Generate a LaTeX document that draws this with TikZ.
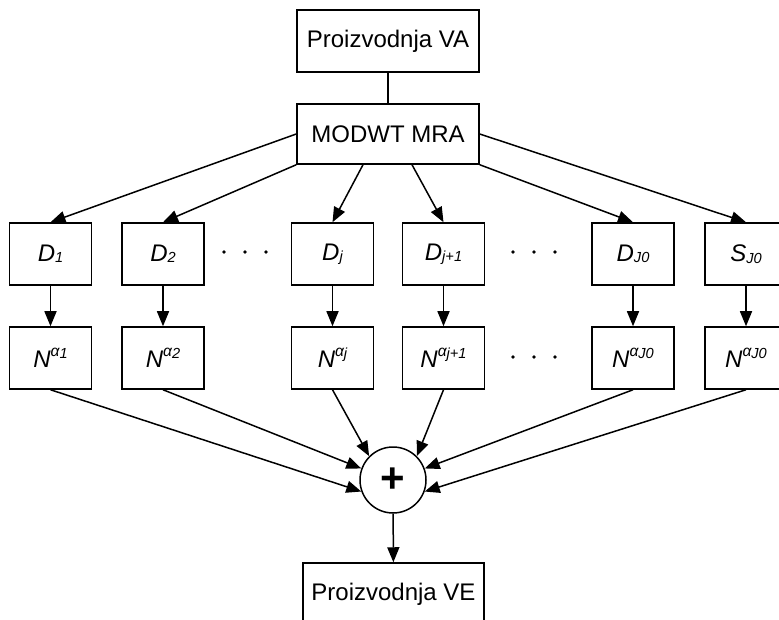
\documentclass[tikz,border=0pt]{standalone}
\usepackage{fontspec}
\setmainfont{Liberation Sans}
\usetikzlibrary{arrows.meta}

\newcommand{\dsub}[1]{\raisebox{-0.7pt}{\fontsize{7.3}{7.3}\selectfont #1}}
\newcommand{\nalpha}[1]{\raisebox{5.5pt}{\fontsize{7.8}{7.8}\selectfont α\raisebox{-0.8pt}{\fontsize{7.3}{7.3}\selectfont #1}}}

\begin{document}
\begin{tikzpicture}[x=0.5pt, y=-0.5pt,
    box/.style={rectangle, draw, line width=0.75pt, minimum width=41pt,
        minimum height=31pt, inner sep=0pt, font=\fontsize{12}{14}\selectfont\itshape},
    widebox/.style={rectangle, draw, line width=0.75pt, minimum width=91pt,
        minimum height=31pt, inner sep=0pt, font=\fontsize{12}{14}\selectfont},
    sumnode/.style={circle, draw, line width=0.75pt, minimum size=33pt,
        inner sep=0pt, font=\fontsize{21}{21}\selectfont\bfseries},
    arr/.style={-{Triangle[length=7.5pt, width=6pt]}, line width=0.75pt}
]
    \useasboundingbox (0,0) rectangle (779,619);
    \clip (0,0) rectangle (779,619);

    \node[widebox] (va) at (388,41) {Proizvodnja VA};
    \node[widebox, minimum height=30pt] (mra) at (388,134) {MODWT MRA};
    \draw[line width=0.75pt] (va) -- (mra);

    % decomposition levels
    \node[box] (d1) at (50.5,254) {D\dsub{1}};
    \node[box] (d2) at (163,254) {D\dsub{2}};
    \node[box] (dj) at (332.5,254) {D\dsub{j}};
    \node[box] (dj1) at (443.5,254) {D\dsub{j+1}};
    \node[box] (dJ) at (633,254) {D\dsub{J0}};
    \node[box] (sJ) at (746,254) {S\dsub{J0}};

    \node[box] (n1) at (50.5,358) {N\nalpha{1}};
    \node[box] (n2) at (163,358) {N\nalpha{2}};
    \node[box] (nj) at (332.5,358) {N\nalpha{j}};
    \node[box] (nj1) at (443.5,358) {N\nalpha{j+1}};
    \node[box] (nJ) at (633,358) {N\nalpha{J0}};
    \node[box] (nS) at (746,358) {N\nalpha{J0}};

    \node[sumnode] (sum) at (393,480) {+};
    \node[widebox, minimum width=90.5pt] (ve) at (393.5,594) {Proizvodnja VE};

    % dots between the levels
    \coordinate (gapa) at (245,252);
    \coordinate (gapb) at (534,252);
    \coordinate (gapc) at (534,357);
    \foreach \g in {gapa,gapb,gapc}
        \foreach \dx in {-10.5pt,0pt,10.5pt}
            \fill ([xshift=\dx]\g) circle (0.9pt);

    \draw[arr] (mra.west) -- (d1.north);
    \draw[arr] (mra.south west) -- (d2.north);
    \draw[arr] ([xshift=-12.5pt]mra.south) -- (dj.north);
    \draw[arr] ([xshift=12pt]mra.south) -- (dj1.north);
    \draw[arr] (mra.south east) -- (dJ.north);
    \draw[arr] (mra.east) -- (sJ.north);

    \foreach \a/\b in {d1/n1,d2/n2,dj/nj,dj1/nj1,dJ/nJ,sJ/nS}
        \draw[arr] (\a) -- (\b);

    \draw[arr] (n1.south) -- (sum.200);
    \draw[arr] (n2.south) -- (sum.160);
    \draw[arr] (nj.south) -- (sum.135);
    \draw[arr] (nj1.south) -- (sum.45);
    \draw[arr] (nJ.south) -- (sum.20);
    \draw[arr] (nS.south) -- (sum.340);

    \draw[arr] (sum) -- (ve);
\end{tikzpicture}
\end{document}
